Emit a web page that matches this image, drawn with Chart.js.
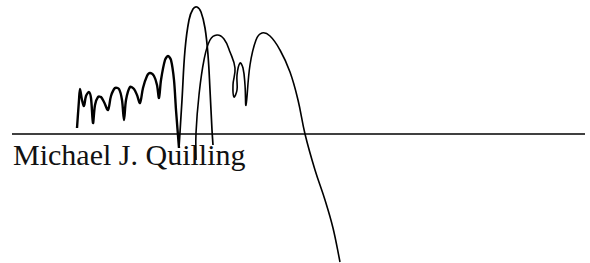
<!DOCTYPE html>
<html>
<head>
<meta charset="utf-8">
<script src="https://cdn.jsdelivr.net/npm/chart.js@4.4.1/dist/chart.umd.min.js"></script>
<style>
  html, body { margin: 0; padding: 0; background: #fff; }
  #wrap { position: relative; width: 590px; height: 263px; }
  #name {
    position: absolute; left: 13px; top: 140px;
    font-family: "Liberation Serif", "Times New Roman", serif;
    font-size: 30px; line-height: 30px; color: #111; white-space: nowrap;
  }
  canvas { position: absolute; left: 0; top: 0; }
</style>
</head>
<body>
<div id="wrap">
  <div id="name">Michael J. Quilling</div>
  <canvas id="sig" width="590" height="263"></canvas>
</div>
<script>
// signature line
const lineX = [12, 585];
const lineY = [134, 134];

// first pen stroke: the small humps
const strokeAX = [77, 79, 80, 82, 84, 86, 89, 91, 93, 95, 98, 101, 104, 108, 111, 115, 119, 122, 124, 126, 130, 134, 137, 140, 143, 147, 150, 154, 157, 159, 161, 165, 168, 171, 174, 176, 179];
const strokeAY = [128, 100, 89, 100, 106, 96, 92, 98, 123, 105, 97, 97, 102, 110, 96, 88, 89, 100, 120, 100, 87, 89, 95, 103, 88, 76, 73, 76, 85, 98, 80, 60, 56, 60, 80, 110, 148];

// the tall loop that follows
const loopX = [179, 182, 185, 189, 193, 197, 201, 205, 208, 210, 212, 213];
const loopY = [148, 100, 50, 20, 9, 7, 12, 28, 55, 90, 130, 145];

// second pen stroke: second loop, little curl, last hump and the long tail
const strokeBX = [196, 196, 199, 204, 210, 217, 224, 230, 235, 233, 234, 237, 237, 240, 243, 245, 246, 250, 256, 262, 270, 280, 290, 298, 305, 315, 325, 333, 340];
const strokeBY = [160, 133, 95, 60, 40, 35, 39, 52, 68, 85, 97, 90, 75, 63, 68, 85, 105, 65, 40, 33, 36, 50, 72, 100, 134, 170, 200, 228, 262];

function toPoints(xs, ys) {
    return xs.map((x, i) => ({ x: x, y: ys[i] }));
}

function penStroke(xs, ys, width, tension) {
    return {
        data: toPoints(xs, ys),
        showLine: true,
        borderColor: '#000',
        borderWidth: width,
        pointRadius: 0,
        tension: tension,
        fill: false,
        clip: false
    };
}

const ctx = document.getElementById('sig').getContext('2d');
new Chart(ctx, {
    type: 'scatter',
    data: {
        datasets: [
            penStroke(lineX, lineY, 1.5, 0),
            penStroke(strokeAX, strokeAY, 2.4, 0.3),
            penStroke(loopX, loopY, 1.7, 0.4),
            penStroke(strokeBX, strokeBY, 1.6, 0.4)
        ]
    },
    options: {
        responsive: false,
        animation: false,
        layout: { padding: 0 },
        plugins: { legend: { display: false }, tooltip: { enabled: false } },
        scales: {
            x: { type: 'linear', min: 0, max: 590, display: false },
            y: { type: 'linear', min: 0, max: 263, reverse: true, display: false }
        }
    }
});
</script>
</body>
</html>
